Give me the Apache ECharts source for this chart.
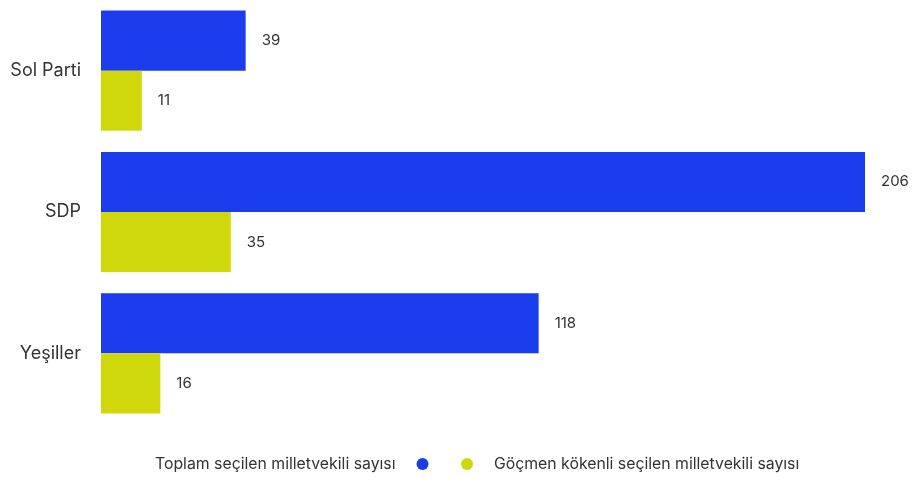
<!DOCTYPE html>
<html><head><meta charset="utf-8">
<script src="https://cdn.jsdelivr.net/npm/echarts@6/dist/echarts.min.js"></script>
<style>html,body{margin:0;padding:0;background:#fff}#c{width:916px;height:479px}</style>
</head><body><div id="c"></div>
<script>
const categories = ['Sol Parti', 'SDP', 'Yeşiller'];
const seriesNames = ['Toplam seçilen milletvekili sayısı', 'Göçmen kökenli seçilen milletvekili sayısı'];
const totalValues = [39, 206, 118];
const immigrantValues = [11, 35, 16];
const colors = ['#1a3ced', '#d0d80c'];

const chart = echarts.init(document.getElementById('c'));
const labelCfg = { show: true, position: 'right', distance: 16, color: '#333', fontSize: 15, fontFamily: 'Inter' };
chart.setOption({
  animation: false,
  textStyle: { fontFamily: 'Inter' },
  grid: { left: 101, right: 51, top: 0, bottom: 55, containLabel: false },
  xAxis: { type: 'value', min: 0, max: 206, show: false },
  yAxis: {
    type: 'category', data: categories, inverse: true,
    axisLine: { show: false }, axisTick: { show: false },
    axisLabel: { color: '#333', fontSize: 18, margin: 20, fontFamily: 'Inter' }
  },
  legend: [
    { data: [seriesNames[0]], bottom: 2, left: 150, align: 'right', icon: 'circle', itemWidth: 12, itemHeight: 12,
      textStyle: { color: '#333', fontSize: 15.8, fontFamily: 'Inter', padding: [0, 16, 0, 0] } },
    { data: [seriesNames[1]], bottom: 2, left: 456, align: 'left', icon: 'circle', itemWidth: 12, itemHeight: 12,
      textStyle: { color: '#333', fontSize: 15.8, fontFamily: 'Inter', padding: [0, 0, 0, 16] } }
  ],
  series: [
    { name: seriesNames[0], type: 'bar', data: totalValues, itemStyle: { color: colors[0] },
      barGap: '0%', barCategoryGap: '15%', label: labelCfg },
    { name: seriesNames[1], type: 'bar', data: immigrantValues, itemStyle: { color: colors[1] },
      barGap: '0%', barCategoryGap: '15%', label: labelCfg }
  ]
});
</script></body></html>
